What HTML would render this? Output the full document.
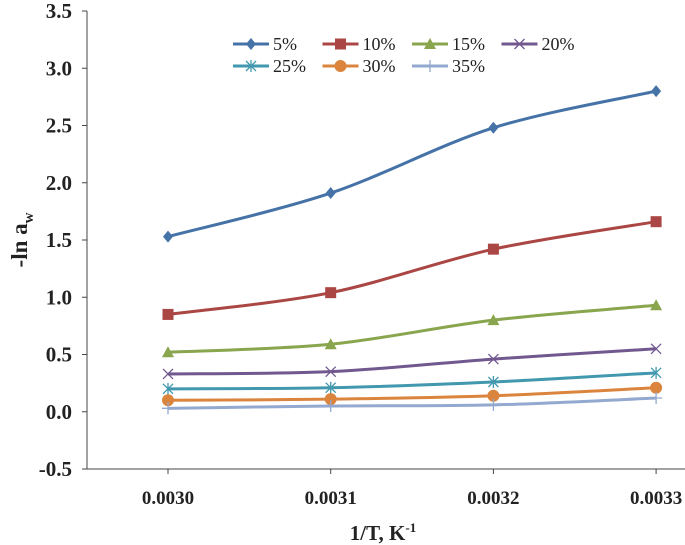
<!DOCTYPE html>
<html><head><meta charset="utf-8"><style>
body{margin:0;background:#fff}
svg{display:block;font-family:"Liberation Serif",serif}
</style></head><body>
<svg id="chart" width="685" height="545"></svg>
<script>
const categories=["0.0030","0.0031","0.0032","0.0033"];
const yTicks=[-0.5,0,0.5,1,1.5,2,2.5,3,3.5];
const seriesNames=["5%","10%","15%","20%","25%","30%","35%"];
const s5=[1.53,1.91,2.48,2.80];
const s10=[0.85,1.04,1.42,1.66];
const s15=[0.52,0.59,0.80,0.93];
const s20=[0.33,0.35,0.46,0.55];
const s25=[0.20,0.21,0.26,0.34];
const s30=[0.10,0.11,0.14,0.21];
const s35=[0.03,0.05,0.06,0.12];
const seriesValues=[s5,s10,s15,s20,s25,s30,s35];
const colors=["#4572A7","#AA4643","#89A54E","#71588F","#4198AF","#DB843D","#93A9CF"];
const markers=["diamond","square","triangle","x","star","circle","plus"];
const NS="http://www.w3.org/2000/svg";
const svg=document.getElementById('chart');
const X0=87,X1=685,Ytop=11,Ybot=469;
function xPos(i){return 168+i*162.7;}
function yPos(v){return Ybot-(v+0.5)/4*(Ybot-Ytop);}
function mk(t,a,p){const e=document.createElementNS(NS,t);for(const k in a)e.setAttribute(k,a[k]);(p||svg).appendChild(e);return e;}
let e;
e=mk('line',{x1:X0,y1:Ytop,x2:X0,y2:Ybot,stroke:'#444','stroke-width':1});


e=mk('line',{x1:X0,y1:Ybot,x2:X1,y2:Ybot,stroke:'#444','stroke-width':1});


yTicks.forEach(v=>{const y=yPos(v);
 mk('line',{x1:X0-5,y1:y,x2:X0,y2:y,stroke:'#444'});
 e=mk('text',{x:X0-15,y:y+7,'text-anchor':'end','font-size':21,'font-weight':'bold',fill:'#222'});
 e.textContent=v.toFixed(1);
 
 
});
categories.forEach((c,i)=>{const x=xPos(i);
 mk('line',{x1:x,y1:Ybot,x2:x,y2:Ybot+5,stroke:'#444'});
 e=mk('text',{x:x,y:504,'text-anchor':'middle','font-size':19,'font-weight':'bold',fill:'#222'});
 e.textContent=c;
 
 
});
e=mk('text',{x:383,y:540,'text-anchor':'middle','font-size':21,'font-weight':'bold',fill:'#222'});
e.innerHTML='1/T, K<tspan font-size="13" dy="-8">-1</tspan>';


e=mk('text',{transform:'translate(27,240) rotate(-90)','text-anchor':'middle','font-size':23,'font-weight':'bold',fill:'#222'});
e.innerHTML='-ln a<tspan font-size="15" dy="6">w</tspan>';


function marker(type,x,y,c,g){
 if(type==='diamond')mk('polygon',{points:`${x},${y-6} ${x+5},${y} ${x},${y+6} ${x-5},${y}`,fill:c},g);
 else if(type==='square')mk('rect',{x:x-5.5,y:y-5.5,width:11,height:11,fill:c},g);
 else if(type==='triangle')mk('polygon',{points:`${x},${y-6} ${x+6},${y+5} ${x-6},${y+5}`,fill:c},g);
 else if(type==='circle')mk('circle',{cx:x,cy:y,r:6,fill:c},g);
 else if(type==='x'){mk('path',{d:`M${x-5},${y-5}L${x+5},${y+5}M${x-5},${y+5}L${x+5},${y-5}`,stroke:c,'stroke-width':1.3},g);}
 else if(type==='star'){mk('path',{d:`M${x-5},${y-5}L${x+5},${y+5}M${x-5},${y+5}L${x+5},${y-5}M${x},${y-6}L${x},${y+6}`,stroke:c,'stroke-width':1.3},g);}
 else if(type==='plus'){mk('path',{d:`M${x-6},${y}L${x+6},${y}M${x},${y-6}L${x},${y+6}`,stroke:c,'stroke-width':1.3},g);}
}
function smooth(p){
 let d=`M${p[0][0]},${p[0][1]}`;
 for(let i=0;i<p.length-1;i++){
  const p0=p[Math.max(i-1,0)],p1=p[i],p2=p[i+1],p3=p[Math.min(i+2,p.length-1)],t=0.16;
  d+=`C${p1[0]+(p2[0]-p0[0])*t},${p1[1]+(p2[1]-p0[1])*t} ${p2[0]-(p3[0]-p1[0])*t},${p2[1]-(p3[1]-p1[1])*t} ${p2[0]},${p2[1]}`;
 }
 return d;
}
seriesValues.forEach((vals,si)=>{
 const g=mk('g',{});
 
 
 const pts=vals.map((v,i)=>[xPos(i),yPos(v)]);
 mk('path',{d:smooth(pts),fill:'none',stroke:colors[si],'stroke-width':3},g);
 vals.forEach((v,i)=>marker(markers[si],xPos(i),yPos(v),colors[si],g));
});
const lg=mk('g',{});


seriesNames.forEach((n,i)=>{
 const col=i%4,row=Math.floor(i/4);
 const x=233+col*89.5,y=44+row*22;
 const g=mk('g',{},lg);
 
 
 mk('line',{x1:x,y1:y,x2:x+36,y2:y,stroke:colors[i],'stroke-width':3},g);
 marker(markers[i],x+18,y,colors[i],g);
 const t=mk('text',{x:x+40,y:y+6,'font-size':18,fill:'#222'},g);
 t.textContent=n;
});
</script>
</body></html>
